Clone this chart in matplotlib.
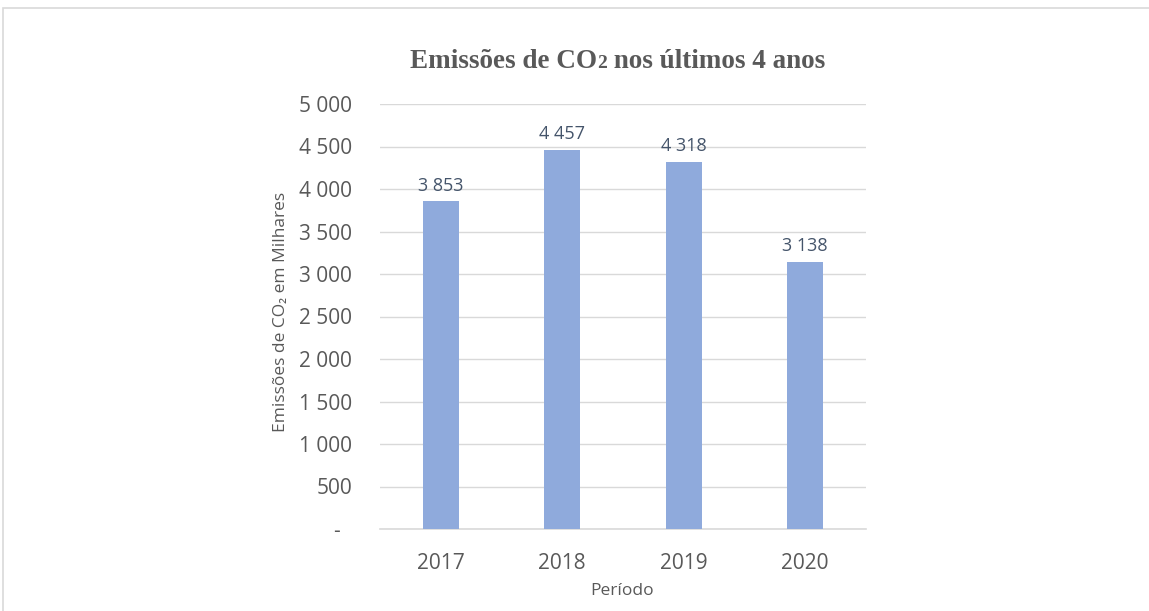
import matplotlib
matplotlib.use("Agg")
import matplotlib.pyplot as plt
from matplotlib.ticker import FuncFormatter, MultipleLocator
from matplotlib.patches import Rectangle

years = ["2017", "2018", "2019", "2020"]
emissions = [3853, 4457, 4318, 3138]

bar_color = "#8FAADC"
text_gray = "#595959"
label_blue = "#44546A"
grid_gray = "#D9D9D9"

W, H = 1149, 611
fig = plt.figure(figsize=(W / 100, H / 100), dpi=100)
fig.patch.set_facecolor("white")

# chart frame line (top and left edges)
fig.add_artist(Rectangle((3 / W, -0.1), 1.2, 1.1 - 8 / H,
                         transform=fig.transFigure, fill=False,
                         edgecolor=grid_gray, linewidth=1.2))

ax = fig.add_axes([380 / W, 82 / H, 486 / W, 425 / H])

x = range(len(years))
ax.bar(x, emissions, width=0.30, color=bar_color, zorder=3)

def fmt(v):
    return f"{int(v):,}".replace(",", " ")

for xi, v in zip(x, emissions):
    ax.annotate(fmt(v), (xi, v), xytext=(0, 5), textcoords="offset points",
                ha="center", va="bottom", fontsize=13, color=label_blue,
                family="Open Sans")

ax.set_ylim(0, 5000)
ax.set_xlim(-0.5, 3.5)
ax.yaxis.set_major_locator(MultipleLocator(500))
# accounting style: zero shown as a dash, set in from the right edge
ax.yaxis.set_major_formatter(
    FuncFormatter(lambda v, p: "-\u2007" if v == 0 else fmt(v)))
ax.set_xticks(list(x))
ax.set_xticklabels(years)

ax.grid(axis="y", color=grid_gray, linewidth=1, zorder=0)
for s in ["top", "right", "left"]:
    ax.spines[s].set_visible(False)
ax.spines["bottom"].set_color(grid_gray)
ax.spines["bottom"].set_linewidth(1.2)

ax.tick_params(axis="y", length=0, pad=20, labelsize=15, labelcolor=text_gray)
ax.tick_params(axis="x", length=0, pad=17, labelsize=15, labelcolor=text_gray)
for lab in ax.get_yticklabels() + ax.get_xticklabels():
    lab.set_family("Open Sans")

fig.text(281 / W, 1 - 312 / H, "Emissões de CO\u2082 em Milhares", rotation=90,
         ha="center", va="center", fontsize=12.5, color=text_gray,
         family="Open Sans")
fig.text(622 / W, 1 - 591 / H, "Período", ha="center", va="center",
         fontsize=12.5, color=text_gray, family="Open Sans")

# title: "CO2" carries a smaller 2 on the baseline
title_parts = [("Emissões de CO", 19.5), ("2", 14), (" nos últimos 4 anos", 19.5)]
renderer = fig.canvas.get_renderer()
pieces = []
for txt, size in title_parts:
    t = fig.text(0, 1 - 68 / H, txt, ha="left", va="baseline", fontsize=size,
                 fontweight="bold", color=text_gray, family="Liberation Serif")
    pieces.append(t)
widths = [p.get_window_extent(renderer).width for p in pieces]
total = sum(widths)
left = 618 - total / 2
for p, w in zip(pieces, widths):
    p.set_x(left / W)
    left += w

fig.savefig("out.png", dpi=100, facecolor="white")
